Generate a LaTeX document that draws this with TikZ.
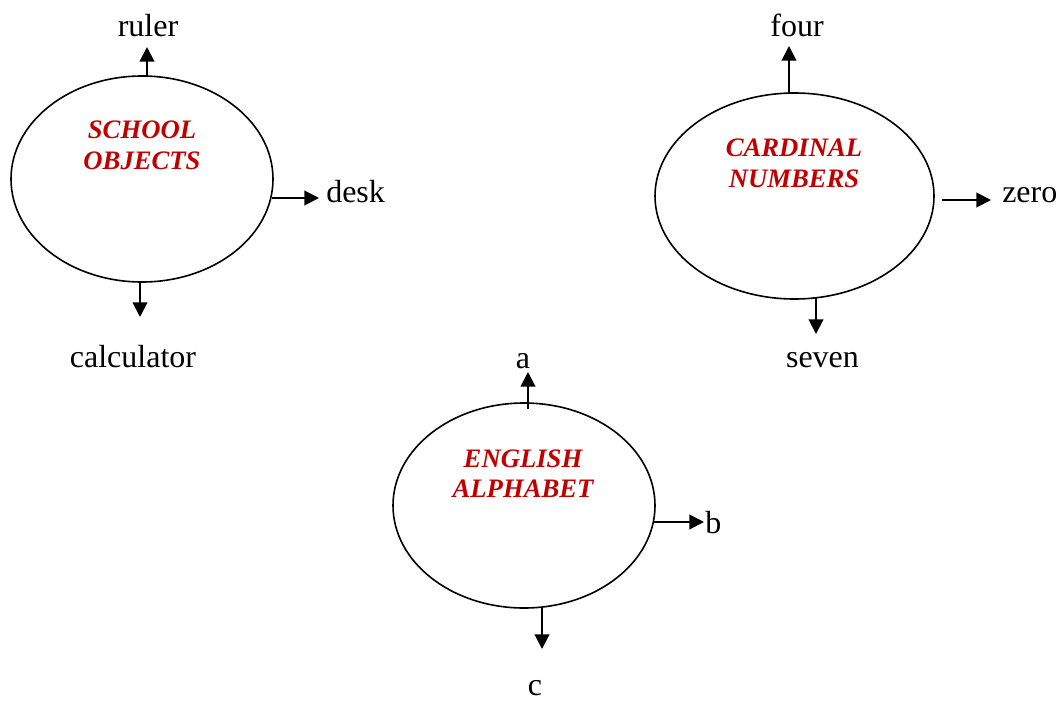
\documentclass[tikz,border=0pt]{standalone}
\usepackage{fontspec}
\setmainfont{Liberation Serif}
\usetikzlibrary{shapes.geometric,arrows.meta}
\definecolor{topicred}{RGB}{192,0,0}
\tikzset{
  oval/.style={draw=black,line width=1.2pt,ellipse,inner sep=0pt},
  topic/.style={font=\fontsize{20}{22.5}\selectfont\bfseries\itshape,text=topicred,anchor=base,inner sep=0pt,align=center},
  word/.style={font=\fontsize{24}{28}\selectfont,inner sep=0pt},
  arr/.style={line width=1.5pt,-{Triangle[length=11pt,width=11pt]}}
}
\begin{document}
\begin{tikzpicture}[x=0.75pt,y=-0.75pt]
\useasboundingbox (0,0) rectangle (1059,700);
% School objects
\node[oval,minimum width=262*0.75pt,minimum height=206*0.75pt] (s) at (142,179) {};
\node[topic] (s1) at (142,138) {SCHOOL};
\node[topic] (s2) at (142,169) {OBJECTS};
\node[word,anchor=base] (ruler) at (148,36) {ruler};
\node[word,anchor=base west] (desk) at (326,202) {desk};
\node[word,anchor=base] (calc) at (133,367) {calculator};
\coordinate (sa1) at (147,77);  \coordinate (sa2) at (147,47);
\coordinate (sb1) at (272,198); \coordinate (sb2) at (319,198);
\coordinate (sc1) at (140,281); \coordinate (sc2) at (140,317);
\draw[arr] (sa1) -- (sa2);
\draw[arr] (sb1) -- (sb2);
\draw[arr] (sc1) -- (sc2);
% Cardinal numbers
\node[oval,minimum width=279*0.75pt,minimum height=206*0.75pt] (n) at (794.5,196) {};
\node[topic] (n1) at (794,156) {CARDINAL};
\node[topic] (n2) at (794,187) {NUMBERS};
\node[word,anchor=base] (four) at (797,36) {four};
\node[word,anchor=base west] (zero) at (1002,202) {zero};
\node[word,anchor=base] (seven) at (822.5,367) {seven};
\coordinate (na1) at (789,94);  \coordinate (na2) at (789,46);
\coordinate (nb1) at (942,200); \coordinate (nb2) at (991,200);
\coordinate (nc1) at (816,298); \coordinate (nc2) at (816,334);
\draw[arr] (na1) -- (na2);
\draw[arr] (nb1) -- (nb2);
\draw[arr] (nc1) -- (nc2);
% English alphabet
\node[oval,minimum width=262*0.75pt,minimum height=205*0.75pt] (e) at (524,505.5) {};
\node[topic] (e1) at (523,467) {ENGLISH};
\node[topic] (e2) at (523,497) {ALPHABET};
\node[word,anchor=base] (la) at (523,368) {a};
\node[word,anchor=base west] (lb) at (705,533) {b};
\node[word,anchor=base] (lc) at (535,695) {c};
\coordinate (ea1) at (528,409); \coordinate (ea2) at (528,372);
\coordinate (eb1) at (654,522); \coordinate (eb2) at (704,522);
\coordinate (ec1) at (542,607); \coordinate (ec2) at (542,649);
\draw[arr] (ea1) -- (ea2);
\draw[arr] (eb1) -- (eb2);
\draw[arr] (ec1) -- (ec2);
\end{tikzpicture}
\end{document}
